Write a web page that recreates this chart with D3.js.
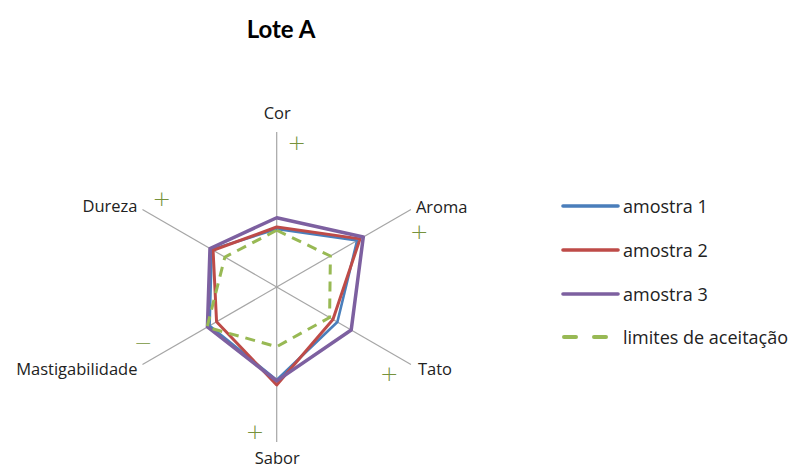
<!DOCTYPE html>
<html>
<head>
<meta charset="utf-8">
<script src="https://cdn.jsdelivr.net/npm/d3@7"></script>
<style>
  html, body { margin: 0; padding: 0; background: #fff; }
  svg { display: block; }
</style>
</head>
<body>
<svg id="chart" width="792" height="468"></svg>
<script>
const title = "Lote A";
const attributes = ["Cor", "Aroma", "Tato", "Sabor", "Mastigabilidade", "Dureza"];
const seriesNames = ["amostra 1", "amostra 2", "amostra 3", "limites de aceitação"];
const amostra1 = [3.74, 5.99, 4.52, 6.00, 5.00, 4.84];
const amostra2 = [3.87, 6.21, 4.19, 6.32, 4.48, 4.74];
const amostra3 = [4.47, 6.45, 5.55, 6.06, 5.16, 4.97];
const limites  = [3.66, 4.00, 3.94, 3.85, 5.19, 3.86];
const signs = ["+", "+", "+", "+", "\u2212", "+"];
const radialDomain = [0, 10];

const svg = d3.select("#chart");
const cx = 276.7, cy = 287, R = 155;
const r = d3.scaleLinear().domain(radialDomain).range([0, R]);
const angleOf = (i) => i * 2 * Math.PI / attributes.length;
const px = (i, v) => cx + r(v) * Math.sin(angleOf(i));
const py = (i, v) => cy - r(v) * Math.cos(angleOf(i));

const FONT = "'Open Sans', sans-serif";

// title
svg.append("text").attr("x", 281).attr("y", 38)
  .attr("text-anchor", "middle")
  .attr("font-family", "Lato, sans-serif").attr("font-weight", "bold")
  .attr("font-size", 24).attr("fill", "#000").text(title);

// axes
const g = svg.append("g");
g.selectAll("line.axis").data(attributes).join("line")
  .attr("class", "axis")
  .attr("x1", cx).attr("y1", cy)
  .attr("x2", (d, i) => px(i, radialDomain[1]))
  .attr("y2", (d, i) => py(i, radialDomain[1]))
  .attr("stroke", "#A6A6A6").attr("stroke-width", 1.2);

// axis labels
const labelCfg = [
  {dx: 0.5, dy: -13.5, anchor: "middle"},
  {dx: 5, dy: 3, anchor: "start"},
  {dx: 7, dy: 10.5, anchor: "start"},
  {dx: 0.5, dy: 21.5, anchor: "middle"},
  {dx: -5, dy: 10.5, anchor: "end"},
  {dx: -5, dy: 2, anchor: "end"}
];
g.selectAll("text.lab").data(attributes).join("text")
  .attr("class", "lab")
  .attr("x", (d, i) => px(i, radialDomain[1]) + labelCfg[i].dx)
  .attr("y", (d, i) => py(i, radialDomain[1]) + labelCfg[i].dy)
  .attr("text-anchor", (d, i) => labelCfg[i].anchor)
  .attr("font-family", FONT).attr("font-size", 16.5).attr("fill", "#222")
  .text(d => d);

// sign annotations (offsets of glyph centre from axis end)
const signPos = [
  [20, 10], [8.4, 22.2], [-21.6, 8.8], [-21.7, -10.3], [0.8, -21.8], [19.2, -11.2]
];
g.selectAll("text.sign").data(signs).join("text")
  .attr("class", "sign")
  .attr("x", (d, i) => px(i, radialDomain[1]) + signPos[i][0])
  .attr("y", (d, i) => py(i, radialDomain[1]) + signPos[i][1] + 7.5)
  .attr("text-anchor", "middle")
  .attr("font-family", "'DejaVu Sans', sans-serif").attr("font-weight", "200")
  .attr("font-size", 22).attr("fill", "#76923C")
  .text(d => d);

// series
const allSeries = [amostra1, amostra2, amostra3, limites];
const colors = ["#4A7EBB", "#BE4B48", "#7D60A0", "#98B954"];
const widths = [2.6, 3, 3.5, 3];
const dashes = [null, null, null, "10,7"];

const line = d3.lineRadial()
  .angle((d, i) => angleOf(i))
  .radius(d => r(d))
  .curve(d3.curveLinearClosed);

svg.append("g").attr("transform", `translate(${cx},${cy})`)
  .selectAll("path").data(allSeries).join("path")
  .attr("d", d => line(d))
  .attr("fill", "none")
  .attr("stroke", (d, i) => colors[i])
  .attr("stroke-width", (d, i) => widths[i])
  .attr("stroke-dasharray", (d, i) => dashes[i])
  .attr("stroke-linejoin", "round");

// legend
const lg = svg.append("g");
const legY = [206, 250, 294, 337];
seriesNames.forEach((name, i) => {
  const row = lg.append("g").attr("transform", `translate(0,${legY[i]})`);
  row.append("line").attr("x1", i === 3 ? 564 : 563).attr("x2", 618).attr("y1", 0).attr("y2", 0)
    .attr("stroke", colors[i]).attr("stroke-width", i === 3 ? 4 : 3.6)
    .attr("stroke-linecap", "round")
    .attr("stroke-dasharray", i === 3 ? "12,18" : null);
  row.append("text").attr("x", 623).attr("y", 6.5)
    .attr("font-family", FONT).attr("font-size", 18).attr("fill", "#222")
    .text(name);
});
</script>
</body>
</html>
